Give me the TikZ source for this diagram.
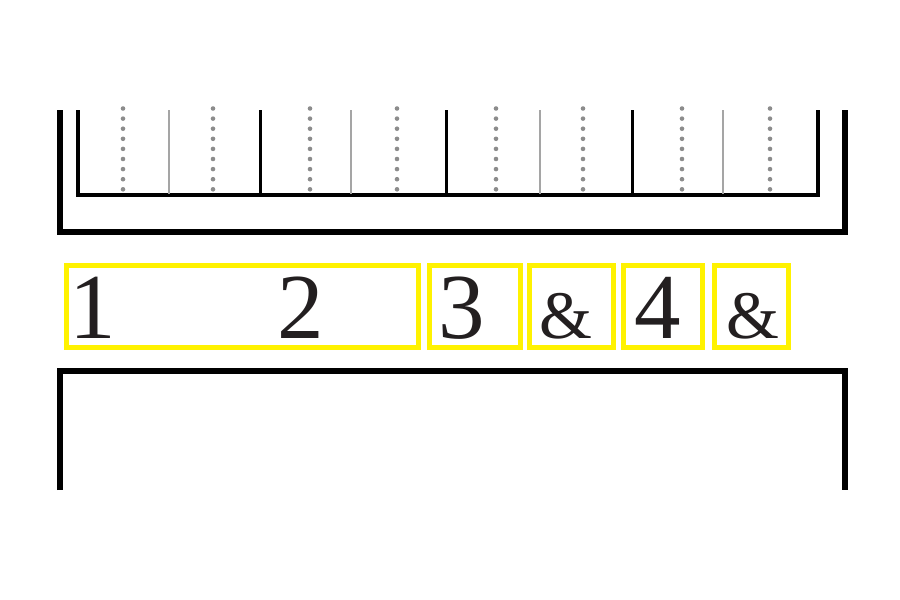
\documentclass[tikz,border=0pt]{standalone}
\usepackage{fontspec}
\setmainfont{Liberation Serif}
\definecolor{hiyellow}{RGB}{255,242,0}
\definecolor{inkblack}{RGB}{35,31,32}
\definecolor{dotgray}{RGB}{140,140,140}
\definecolor{thingray}{RGB}{165,165,165}
\begin{document}
\begin{tikzpicture}[x=1pt,y=-1pt,
  frameline/.style={line width=5.5pt,draw=black,line join=miter},
  innerline/.style={line width=4.5pt,draw=black,line join=miter},
  beatline/.style={line width=3pt,draw=black},
  halfline/.style={line width=1.8pt,draw=thingray},
  dotline/.style={line width=4.6pt,draw=dotgray,line cap=round,dash pattern=on 0pt off 10.1pt},
  hibox/.style={draw=hiyellow,line width=5pt,inner sep=0pt,outer sep=0pt,anchor=north west},
  bignum/.style={font=\fontsize{93}{100}\selectfont,text=inkblack,inner sep=0pt,anchor=base},
  amp/.style={font=\fontsize{68}{72}\selectfont,text=inkblack,inner sep=0pt,anchor=base}]
\useasboundingbox (0,0) rectangle (900,600);
% upper frame
\coordinate (oTL) at (60,110); \coordinate (oBL) at (60,232);
\coordinate (oBR) at (845,232); \coordinate (oTR) at (845,110);
\draw[frameline] (oTL) -- (oBL) -- (oBR) -- (oTR);
\coordinate (iTL) at (78,110); \coordinate (iBL) at (78,195);
\coordinate (iBR) at (818,195); \coordinate (iTR) at (818,110);
\draw[innerline] (iTL) -- (iBL) -- (iBR) -- (iTR);
% beat lines
\foreach \x in {260,446,632} \draw[beatline] (\x,110) -- (\x,195);
\foreach \x in {169,351,540,723} \draw[halfline] (\x,110) -- (\x,194);
\foreach \x in {123,213,310,397,496,583,682,770} \draw[dotline] (\x,108.5) -- (\x,191);
% yellow boxes
\node[hibox,minimum width=352pt,minimum height=82pt] (b12) at (66,265.5) {};
\node[hibox,minimum width=91pt,minimum height=82pt] (b3) at (429.5,265.5) {};
\node[hibox,minimum width=84pt,minimum height=82pt] (ba) at (529.5,265.5) {};
\node[hibox,minimum width=79pt,minimum height=82pt] (b4) at (623.5,265.5) {};
\node[hibox,minimum width=74pt,minimum height=82pt] (bb) at (714.5,265.5) {};
% labels
\node[bignum] (t1) at (93,338) {1};
\node[bignum] (t2) at (301,338) {2};
\node[bignum] (t3) at (462,338) {3};
\node[amp] (ta) at (566,338) {\&};
\node[bignum] (t4) at (658,338) {4};
\node[amp] (tb) at (753,338) {\&};
% lower frame
\coordinate (lBL) at (60,490); \coordinate (lTL) at (60,371);
\coordinate (lTR) at (845,371); \coordinate (lBR) at (845,490);
\draw[frameline] (lBL) -- (lTL) -- (lTR) -- (lBR);
\end{tikzpicture}
\end{document}
